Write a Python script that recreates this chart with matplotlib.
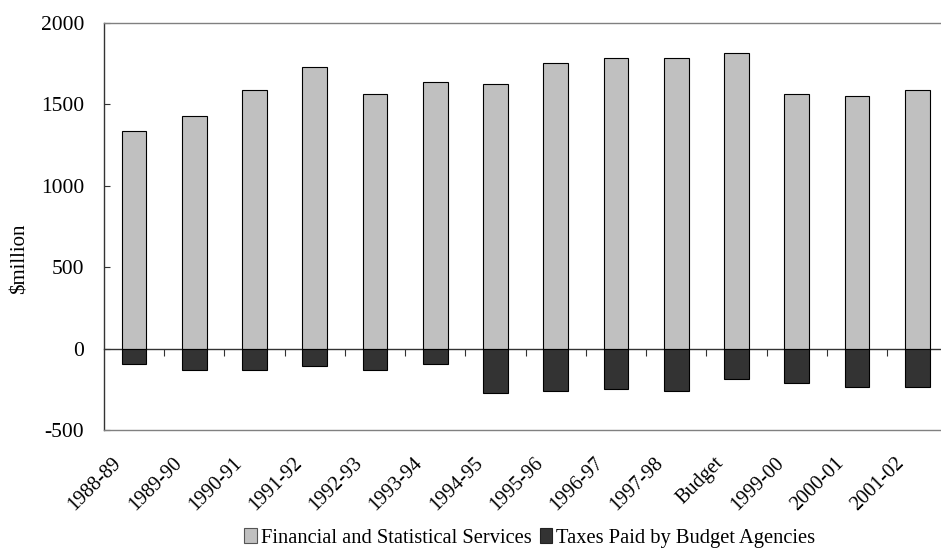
import matplotlib
matplotlib.use("Agg")
import matplotlib.pyplot as plt
import matplotlib.transforms as mtransforms
import numpy as np
from matplotlib.patches import Patch

plt.rcParams['font.family'] = ['Liberation Serif', 'DejaVu Serif']

categories = ["1988-89", "1989-90", "1990-91", "1991-92", "1992-93", "1993-94",
              "1994-95", "1995-96", "1996-97", "1997-98", "Budget", "1999-00",
              "2000-01", "2001-02"]
financial_services = [1334, 1426, 1591, 1731, 1566, 1640, 1626, 1755, 1788,
                      1788, 1813, 1566, 1554, 1591]
taxes_paid = [-97, -132, -132, -109, -132, -97, -271, -261, -249, -261, -189,
              -214, -238, -238]
y_ticks = [-500, 0, 500, 1000, 1500, 2000]

light = "#c0c0c0"
dark = "#333333"

fig = plt.figure(figsize=(9.41, 5.48), dpi=100)
ax = fig.add_axes([0.1103, 0.2153, 0.8964, 0.7427])

x = np.arange(len(categories))
bar_w = 0.41
ax.bar(x, financial_services, width=bar_w, color=light, edgecolor="black",
       linewidth=0.8, zorder=2)
ax.bar(x, taxes_paid, width=bar_w, color=dark, edgecolor="black",
       linewidth=0.8, zorder=2)

ymin, ymax = y_ticks[0], y_ticks[-1]
ax.set_ylim(ymin, ymax)
ax.set_xlim(-0.5, len(categories) - 0.5)

# y axis
ax.set_yticks(y_ticks)
ax.set_yticklabels([str(v) for v in y_ticks], fontsize=15.5)
ax.tick_params(axis="y", direction="in", length=4, width=0.8, pad=14,
               color="#333333")
ax.set_ylabel("$million", fontsize=15)
ax.yaxis.set_label_coords(-0.088, 0.42)

# category labels along the bottom of the plot area
ax.set_xticks(x)
ax.set_xticklabels(categories, rotation=45, ha="right",
                   rotation_mode="anchor", fontsize=14.5)
ax.tick_params(axis="x", length=0, pad=14)
shift = mtransforms.ScaledTranslation(-0.22, -0.04, fig.dpi_scale_trans)
for lbl in ax.get_xticklabels():
    lbl.set_transform(lbl.get_transform() + shift)

for side in ("top", "bottom"):
    ax.spines[side].set_color("#808080")
    ax.spines[side].set_linewidth(1.0)
ax.spines["left"].set_color("#333333")
ax.spines["left"].set_linewidth(1.0)
ax.spines["right"].set_visible(False)

# zero line carrying the category separator ticks
zero_frac = (0 - ymin) / (ymax - ymin)
zero_axis = ax.secondary_xaxis(zero_frac)
zero_axis.set_xticks(x[:-1] + 0.5)
zero_axis.set_xticklabels([])
zero_axis.tick_params(axis="x", direction="out", length=5, width=0.8,
                      color="#333333")
zero_axis.spines["bottom"].set_color("#333333")
zero_axis.spines["bottom"].set_linewidth(1.0)

handles = [Patch(facecolor=light, edgecolor="#555555", linewidth=0.8),
           Patch(facecolor=dark, edgecolor="#222222", linewidth=0.8)]
labels = ["Financial and Statistical Services", "Taxes Paid by Budget Agencies"]
fig.legend(handles, labels, loc="center", bbox_to_anchor=(0.563, 0.018),
           ncol=2, frameon=False, fontsize=14.8, handlelength=0.6,
           handleheight=0.75, handletextpad=0.2, columnspacing=0.4,
           borderaxespad=0)

fig.savefig("out.png", dpi=100)
